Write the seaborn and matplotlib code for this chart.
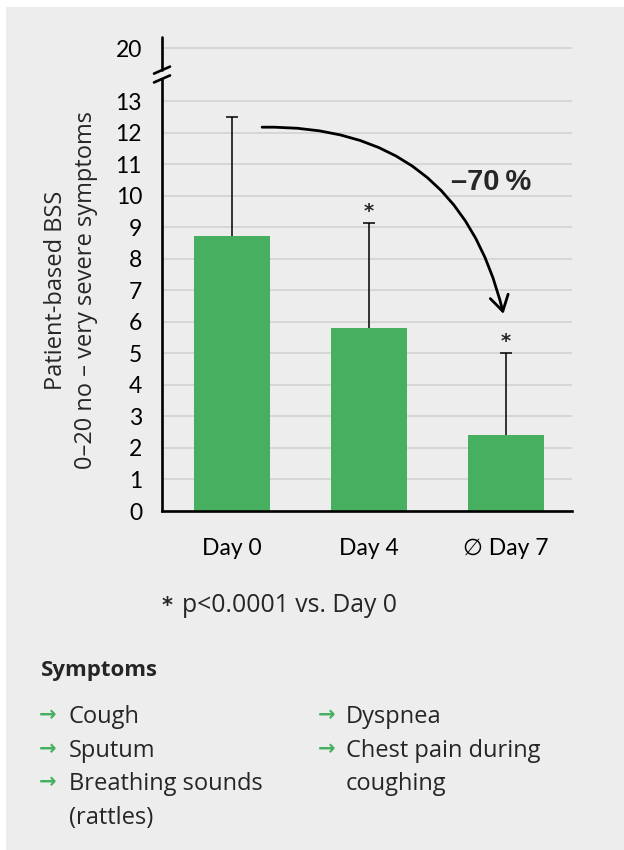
import numpy as np
import matplotlib
matplotlib.use("Agg")
import matplotlib.pyplot as plt
import seaborn as sns
from matplotlib.patches import Rectangle

# ---------------- data ----------------
days = ["Day 0", "Day 4", "\u2205 Day 7"]
means = [8.72, 5.80, 2.41]
sd = [3.78, 3.33, 2.60]
significant = [False, True, True]
yticks = list(range(14)) + [20]
reduction_label = "\u201370\u2009%"
ylabel_lines = ["Patient-based BSS", "0\u201320 no \u2013 very severe symptoms"]
footnote = "p<0.0001 vs. Day 0"
symptoms_title = "Symptoms"
symptoms_col1 = ["Cough", "Sputum", "Breathing sounds", "(rattles)"]
symptoms_col1_bullet = [True, True, True, False]
symptoms_col2 = ["Dyspnea", "Chest pain during", "coughing"]
symptoms_col2_bullet = [True, True, False]

GREEN = "#46B060"
BG = "#EDEDED"
FONT = ["Lato", "DejaVu Sans"]
TXT = ["Open Sans", "DejaVu Sans"]

sns.set_theme(style="white")
plt.rcParams["font.family"] = FONT
plt.rcParams["font.size"] = 16.5

W, H = 624, 850
fig = plt.figure(figsize=(W / 100, H / 100), dpi=100, facecolor="white")
fig.patches.append(Rectangle((6 / W, 0), 1, 1 - 7 / H, transform=fig.transFigure,
                             facecolor=BG, edgecolor="none", zorder=-10))

ax = fig.add_axes([162 / W, 1 - 511 / H, 410 / W, (511 - 37) / H])
ax.set_facecolor("none")

# broken y scale: values above 13 compressed
BRK, K = 13.0, 0.24
def fwd(v):
    v = np.asarray(v, dtype=float)
    return np.where(v <= BRK, v, BRK + (v - BRK) * K)
def inv(u):
    u = np.asarray(u, dtype=float)
    return np.where(u <= BRK, u, BRK + (u - BRK) / K)
ax.set_yscale("function", functions=(fwd, inv))

sns.barplot(x=days, y=means, color=GREEN, saturation=1, width=0.555, ax=ax,
            linewidth=0, edgecolor="none", zorder=2)
eb = ax.errorbar(range(len(days)), means, yerr=[np.zeros(len(sd)), sd], fmt="none",
                 ecolor="black", elinewidth=1.1, capsize=4.5, capthick=1.1, zorder=3)
# keep only the upper caps
for cl in eb.lines[1]:
    if np.allclose(np.asarray(cl.get_ydata(), dtype=float), means):
        cl.set_visible(False)

for i, (m, s, sig) in enumerate(zip(means, sd, significant)):
    if sig:
        ax.annotate("*", xy=(i, m + s), xytext=(0, 1.5), textcoords="offset points",
                    ha="center", va="bottom", fontsize=14, fontweight="bold",
                    family=["DejaVu Sans"])

ax.set_xlim(-0.51, 2.48)
ax.set_ylim(0, float(inv(15.03)))
ax.set_yticks(yticks)
ax.set_yticklabels([str(t) for t in yticks])
ax.yaxis.grid(True, color="#D6D6D6", linewidth=1.4)
ax.set_axisbelow(True)

for sp in ["top", "right", "left"]:
    ax.spines[sp].set_visible(False)
ax.spines["bottom"].set_linewidth(1.9)
ax.spines["bottom"].set_color("black")

ax.tick_params(axis="y", direction="inout", length=8, width=1.5, pad=10.4,
               labelsize=16.5, colors="black")
ax.tick_params(axis="x", direction="out", length=6.5, width=1.5, pad=13,
               labelsize=16.5, colors="black")
ax.set_xlabel("")
ax.set_ylabel("")

# left spine with a break
tr = ax.get_yaxis_transform()
b_lo, b_hi = float(inv(13.70)), float(inv(13.98))
ymax = ax.get_ylim()[1]
ax.plot([0, 0], [0, b_lo], transform=tr, color="black", lw=1.9, clip_on=False, zorder=5)
ax.plot([0, 0], [b_hi, ymax], transform=tr, color="black", lw=1.9, clip_on=False, zorder=5)
fr_lo = 13.70 / 15.03
fr_hi = 13.98 / 15.03
dx, dy = 8 / 410, 3.5 / 474
for f in (fr_lo, fr_hi):
    ax.plot([-dx, dx], [f - dy, f + dy], transform=ax.transAxes, color="black",
            lw=1.9, clip_on=False, zorder=5)

# curved arrow
ax.annotate("", xy=(1.98, 6.25), xytext=(0.22, 12.17),
            arrowprops=dict(arrowstyle="->,head_length=0.5,head_width=0.3",
                            connectionstyle="arc3,rad=-0.4", lw=2.0,
                            color="black", mutation_scale=22, shrinkA=0, shrinkB=0))
ax.text(1.89, 10.42, reduction_label, ha="center", va="center", fontsize=21,
        fontweight="bold", family=["Liberation Sans", "DejaVu Sans"])

# y label
fig.text(56 / W, 1 - 290 / H, ylabel_lines[0], rotation=90, ha="center", va="center",
         fontsize=17, family=TXT)
fig.text(86 / W, 1 - 290 / H, ylabel_lines[1], rotation=90, ha="center", va="center",
         fontsize=17, family=TXT)

# footnote
fig.text(162 / W, 1 - 612 / H, "*", ha="left", va="baseline", fontsize=15,
         fontweight="bold", family=["DejaVu Sans"])
fig.text(182 / W, 1 - 612 / H, footnote, ha="left", va="baseline", fontsize=17.8,
         family=TXT)

# symptoms box
fig.text(41 / W, 1 - 676 / H, symptoms_title, ha="left", va="baseline", fontsize=16,
         fontweight="bold", family=TXT)
rows = [723, 757, 790, 824]
for txt, bul, y in zip(symptoms_col1, symptoms_col1_bullet, rows):
    if bul:
        fig.text(39 / W, 1 - (y - 2) / H, "\u2192", ha="left", va="baseline",
                 fontsize=15, fontweight="bold", color=GREEN, family=["DejaVu Sans"])
    fig.text(69 / W, 1 - y / H, txt, ha="left", va="baseline", fontsize=17, family=TXT)
for txt, bul, y in zip(symptoms_col2, symptoms_col2_bullet, rows):
    if bul:
        fig.text(318 / W, 1 - (y - 2) / H, "\u2192", ha="left", va="baseline",
                 fontsize=15, fontweight="bold", color=GREEN, family=["DejaVu Sans"])
    fig.text(346 / W, 1 - y / H, txt, ha="left", va="baseline", fontsize=17, family=TXT)

fig.savefig("out.png", dpi=100, facecolor=fig.get_facecolor())
